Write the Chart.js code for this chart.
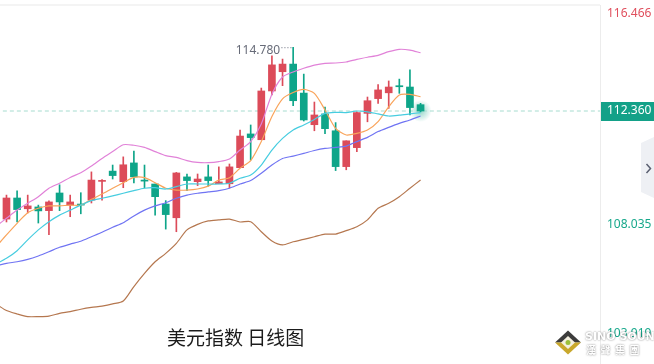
<!DOCTYPE html>
<html>
<head>
<meta charset="utf-8">
<script src="https://cdn.jsdelivr.net/npm/chart.js@4.4.0/dist/chart.umd.min.js"></script>
<style>
  html, body { margin: 0; padding: 0; background: #fff; }
</style>
</head>
<body>
<canvas id="kChart" width="654" height="364"></canvas>
<script>
// daily candles, oldest first
const opens  = [108.26, 109.06, 108.65, 108.72, 108.58, 109.25, 108.79, 108.83, 108.98, 109.69,
                110.08, 109.68, 110.39, 109.74, 109.59, 108.83, 108.31, 109.86, 109.68, 109.86,
                109.60, 109.60, 110.21, 111.49, 111.27, 113.12, 113.85, 114.14, 113.04, 111.84,
                112.25, 111.61, 110.25, 110.97, 112.27, 112.83, 113.05, 113.32, 113.27, 112.60];
const closes = [109.06, 108.62, 108.76, 108.57, 108.91, 108.91, 108.91, 108.79, 109.74, 109.72,
                109.91, 110.32, 109.86, 109.70, 109.11, 108.43, 110.01, 109.72, 109.78, 109.72,
                109.67, 110.24, 111.41, 111.35, 113.12, 114.11, 114.14, 112.75, 112.02, 112.21,
                111.69, 110.25, 111.23, 112.30, 112.75, 113.16, 113.27, 113.28, 112.49, 112.36];
const highs  = [109.17, 109.33, 109.17, 108.79, 108.95, 109.56, 109.17, 109.26, 110.05, 109.76,
                110.31, 110.62, 110.84, 110.31, 109.59, 108.96, 110.03, 109.97, 109.97, 110.31,
                110.24, 110.35, 111.64, 111.83, 113.23, 114.45, 114.33, 114.78, 113.76, 112.70,
                112.51, 111.92, 111.23, 112.33, 112.89, 113.36, 113.50, 113.57, 113.92, 112.65];
const lows   = [108.15, 108.15, 108.49, 108.11, 107.67, 108.58, 108.35, 108.46, 108.87, 108.98,
                109.78, 109.45, 109.63, 109.44, 108.41, 107.88, 107.78, 109.34, 109.53, 109.51,
                109.60, 109.44, 110.21, 110.50, 111.27, 112.97, 113.32, 112.56, 111.98, 111.61,
                111.50, 110.10, 110.13, 110.82, 111.95, 112.65, 112.46, 113.03, 112.21, 112.33];

// moving averages and bands, first value is the day before the visible window
const ma5   = [107.20, 107.66, 108.10, 108.50, 108.67, 108.76, 108.76, 108.79, 108.79, 109.01, 109.21,
               109.43, 109.64, 109.84, 109.83, 109.64, 109.43, 109.36, 109.36, 109.40, 109.51,
               109.74, 109.83, 110.19, 110.48, 111.20, 112.15, 112.82, 113.06, 113.18, 113.03,
               112.40, 111.70, 111.45, 111.51, 111.64, 111.96, 112.52, 112.97, 112.99, 112.90];
const ma10  = [106.56, 106.77, 107.06, 107.47, 107.85, 108.16, 108.41, 108.60, 108.79, 108.96, 109.05,
               109.14, 109.24, 109.34, 109.43, 109.45, 109.40, 109.49, 109.59, 109.59, 109.59,
               109.59, 109.62, 109.81, 109.93, 110.31, 110.88, 111.32, 111.64, 111.83, 112.04,
               112.27, 112.31, 112.30, 112.36, 112.33, 112.25, 112.17, 112.20, 112.25, 112.30];
const ma20  = [106.48, 106.58, 106.64, 106.73, 106.86, 107.02, 107.19, 107.31, 107.42, 107.59, 107.76,
               107.95, 108.12, 108.38, 108.60, 108.76, 108.88, 109.05, 109.17, 109.24, 109.29,
               109.34, 109.43, 109.59, 109.72, 110.00, 110.31, 110.56, 110.65, 110.75, 110.86,
               110.94, 110.98, 111.03, 111.20, 111.36, 111.58, 111.74, 111.89, 112.02, 112.17];
const upper = [107.98, 108.29, 108.60, 108.86, 109.11, 109.43, 109.62, 109.84, 110.02, 110.27, 110.56,
               110.82, 111.08, 111.06, 110.98, 110.82, 110.67, 110.60, 110.48, 110.41, 110.40,
               110.44, 110.54, 110.88, 111.20, 111.87, 113.00, 113.65, 113.84, 113.98, 114.10,
               114.17, 114.18, 114.22, 114.32, 114.40, 114.47, 114.61, 114.70, 114.67, 114.57];
const lower = [105.04, 104.79, 104.66, 104.56, 104.56, 104.58, 104.68, 104.75, 104.84, 104.91, 104.96,
               105.04, 105.15, 105.70, 106.20, 106.64, 106.96, 107.34, 107.85, 108.06, 108.19,
               108.23, 108.26, 108.15, 108.16, 107.78, 107.43, 107.28, 107.40, 107.49, 107.59,
               107.69, 107.69, 107.82, 107.97, 108.23, 108.67, 108.86, 109.11, 109.43, 109.74];

const lastPrice = 112.360;
const axisTicks = [116.466, 108.035, 103.919];
const chartTitle = '美元指数 日线图';

const red = '#dc4b59';
const green = '#0ea589';

const idx = opens.map((_, i) => i);
const lineX = [-1].concat(idx);
const candleColor = idx.map(i => closes[i] >= opens[i] ? red : green);

function lineSet(values, color) {
  return {
    type: 'line',
    data: lineX.map((x, k) => ({x: x, y: values[k]})),
    borderColor: color,
    borderWidth: 1.2,
    pointRadius: 0,
    tension: 0.25,
    fill: false,
    order: 1
  };
}

//Extra drawing: price axis, glow, labels, watermark
const decor = {
  id: 'decor',
  beforeDraw(chart) {
    const ctx = chart.ctx;
    ctx.save();
    ctx.fillStyle = '#f4f4f4';
    ctx.fillRect(0, 4, 600, 2);
    ctx.fillStyle = '#ececec';
    ctx.fillRect(600, 5, 1, 359);
    ctx.restore();
  },
  beforeDatasetsDraw(chart) {
    const {ctx, scales: {x, y}} = chart;
    const px = x.getPixelForValue(idx.length - 1);
    const py = y.getPixelForValue(lastPrice);
    ctx.save();
    const g = ctx.createRadialGradient(px, py, 0, px, py, 11);
    g.addColorStop(0, 'rgba(20,165,137,0.45)');
    g.addColorStop(1, 'rgba(20,165,137,0)');
    ctx.fillStyle = g;
    ctx.beginPath();
    ctx.arc(px, py, 11, 0, Math.PI * 2);
    ctx.fill();
    ctx.restore();
  },
  afterDraw(chart) {
    const {ctx, scales: {x, y}} = chart;
    ctx.save();
    ctx.font = '12px "Noto Sans", sans-serif';
    ctx.textBaseline = 'middle';
    ctx.textAlign = 'left';

    // axis values
    axisTicks.forEach(v => {
      let py = y.getPixelForValue(v);
      py = Math.max(14, Math.min(py, 350));
      ctx.fillStyle = v > lastPrice ? '#e0505e' : '#17a88b';
      ctx.fillText(v.toFixed(3), 607, py);
    });

    // last price badge
    const lp = y.getPixelForValue(lastPrice);
    ctx.fillStyle = '#13a188';
    ctx.fillRect(601, lp - 9, 53, 19);
    ctx.fillStyle = '#ffffff';
    ctx.fillText(lastPrice.toFixed(3), 607, lp);

    // highest point marker
    let hi = 0;
    highs.forEach((v, i) => { if (v > highs[hi]) hi = i; });
    const hx = x.getPixelForValue(hi);
    const hy = y.getPixelForValue(highs[hi]);
    ctx.strokeStyle = '#9a9da8';
    ctx.lineWidth = 1;
    ctx.setLineDash([1.5, 1.5]);
    ctx.beginPath();
    ctx.moveTo(hx - 12, hy + 0.5);
    ctx.lineTo(hx - 1, hy + 0.5);
    ctx.stroke();
    ctx.setLineDash([]);
    ctx.fillStyle = '#676b78';
    ctx.textAlign = 'right';
    ctx.fillText(highs[hi].toFixed(3), hx - 13, hy + 3.5);

    // title
    ctx.textAlign = 'left';
    ctx.fillStyle = '#1b1b1b';
    ctx.font = '19px "Noto Sans CJK SC", sans-serif';
    ctx.fillText(chartTitle, 167, 338);

    // side tab with arrow
    ctx.fillStyle = '#eef0f4';
    ctx.beginPath();
    ctx.moveTo(654, 137);
    ctx.lineTo(641, 143);
    ctx.lineTo(641, 192);
    ctx.lineTo(654, 198);
    ctx.closePath();
    ctx.fill();
    ctx.strokeStyle = '#5a5f70';
    ctx.lineWidth = 1.5;
    ctx.beginPath();
    ctx.moveTo(646.5, 164);
    ctx.lineTo(650.5, 168.5);
    ctx.lineTo(646.5, 173);
    ctx.stroke();

    // watermark
    const cx = 568, cy = 342.5;
    ctx.fillStyle = '#3c3c3c';
    ctx.beginPath();
    ctx.moveTo(cx - 13, cy); ctx.lineTo(cx, cy - 12); ctx.lineTo(cx + 13, cy); ctx.closePath();
    ctx.fill();
    ctx.fillStyle = '#c9a82c';
    ctx.beginPath();
    ctx.moveTo(cx - 13, cy); ctx.lineTo(cx, cy + 12); ctx.lineTo(cx + 13, cy); ctx.closePath();
    ctx.fill();
    ctx.fillStyle = '#f4f0e0';
    ctx.beginPath();
    ctx.moveTo(cx - 7, cy); ctx.lineTo(cx, cy - 6.5); ctx.lineTo(cx + 7, cy); ctx.lineTo(cx, cy + 6.5); ctx.closePath();
    ctx.fill();
    ctx.fillStyle = '#9bbf3a';
    ctx.beginPath();
    ctx.arc(cx, cy, 2.5, 0, Math.PI * 2);
    ctx.fill();

    ctx.shadowColor = 'rgba(0,0,0,0.55)';
    ctx.shadowBlur = 2;
    ctx.fillStyle = '#ffffff';
    ctx.font = 'bold 11px "DejaVu Sans", sans-serif';
    ctx.fillText('SINO SOUND', 585, 337);
    ctx.font = 'bold 10px "Noto Sans CJK TC", sans-serif';
    ctx.fillText('漢  聲  集  團', 586, 350);
    ctx.restore();
  }
};

new Chart('kChart', {
  type: 'bar',
  data: {
    datasets: [
      {
        type: 'line',
        data: [{x: -1, y: lastPrice}, {x: 60, y: lastPrice}],
        borderColor: '#a6dccf',
        borderWidth: 1,
        borderDash: [4, 3],
        pointRadius: 0,
        order: 5
      },
      {
        data: idx.map(i => ({x: i, y: [lows[i], highs[i]]})),
        backgroundColor: candleColor,
        barThickness: 1,
        grouped: false,
        minBarLength: 1,
        order: 4
      },
      {
        data: idx.map(i => ({x: i, y: [opens[i], closes[i]]})),
        backgroundColor: candleColor,
        barThickness: 7,
        grouped: false,
        minBarLength: 1,
        order: 3
      },
      lineSet(upper, '#e182d8'),
      lineSet(lower, '#b5774f'),
      lineSet(ma20, '#7074f3'),
      lineSet(ma10, '#47cde0'),
      lineSet(ma5, '#f9a45b')
    ]
  },
  options: {
    responsive: false,
    animation: false,
    events: [],
    layout: { padding: { left: 0, right: 54, top: 0, bottom: 0 } },
    plugins: {
      legend: { display: false },
      tooltip: { enabled: false }
    },
    scales: {
      x: { type: 'linear', min: -0.61, max: 55.9, offset: false, display: false },
      y: { type: 'linear', position: 'right', min: 102.762, max: 116.571, display: false }
    }
  },
  plugins: [decor]
});
</script>
</body>
</html>
